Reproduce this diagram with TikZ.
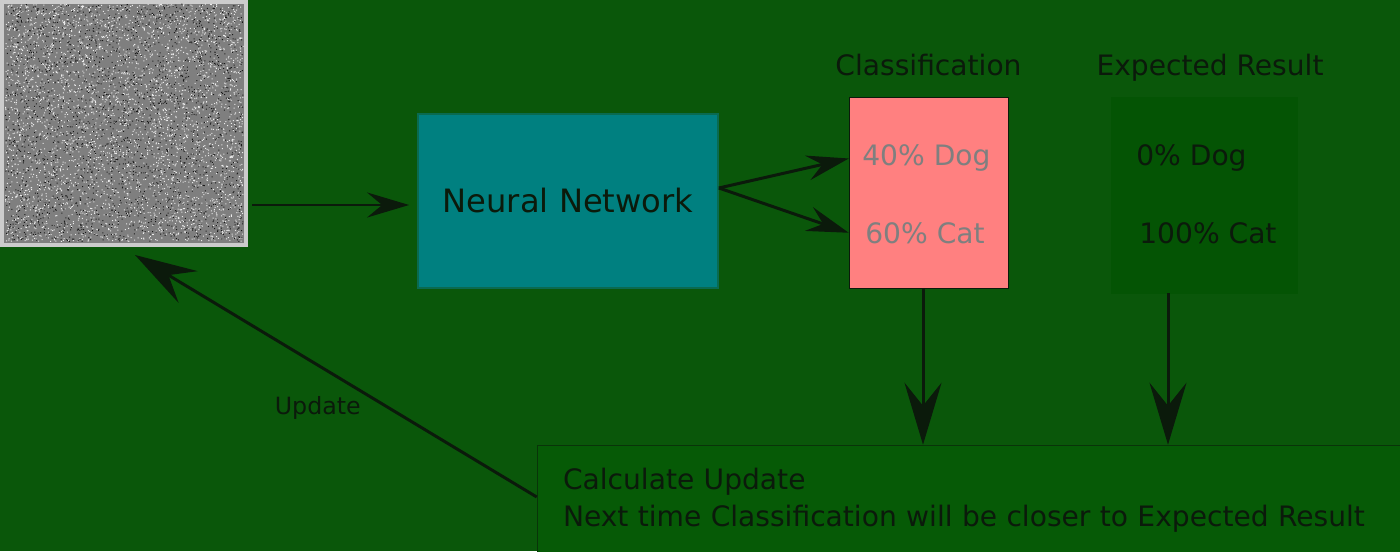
\documentclass[tikz,border=0pt]{standalone}
\usepackage{fontspec}
\setmainfont{DejaVu Sans}
\usepackage{xcolor}
\usetikzlibrary{
arrows.meta,
positioning,
calc
}

\definecolor{bggreen}{HTML}{0A570A}
\definecolor{boxgreen}{HTML}{045404}
\definecolor{updgreen}{HTML}{065A06}
\definecolor{ink}{HTML}{0B1A0B}
\definecolor{nnteal}{HTML}{008080}
\definecolor{nnedge}{HTML}{0A6A50}
\definecolor{clspink}{HTML}{FF8080}
\definecolor{clstext}{HTML}{7F7F7F}
\definecolor{noisegray}{HTML}{7F7F7F}
\definecolor{imgedge}{HTML}{CCCCCC}

\begin{document}
\begin{tikzpicture}[
node distance=0.42cm,
box/.style={
draw=ink,
line width=0.3pt,
inner sep=0pt
},
txt/.style={
text=ink,
inner sep=0pt,
font=\fontsize{16}{21}\selectfont
},
arrow/.style={-{Stealth[length=0.84cm,width=0.5cm,inset=0.3cm]},line width=1.7pt,draw=ink},
bigarrow/.style={-{Stealth[length=1.24cm,width=0.74cm,inset=0.46cm]},line width=1.7pt,draw=ink}
]

\fill[bggreen] (0,0) rectangle (28,11.02);
\useasboundingbox (0,0) rectangle (28,11.02);

% noise picture
\node[draw=imgedge,line width=0.08cm,fill=noisegray,minimum width=4.88cm,minimum height=4.86cm,inner sep=0pt] (img) at (2.48,8.55) {};
\pgfmathsetseed{42}
\fill[white!85!gray] \foreach \i in {1,...,4000} {({0.1+4.75*rnd},{6.18+4.75*rnd}) rectangle ++(0.02,0.02)};
\fill[black!90] \foreach \i in {1,...,2200} {({0.1+4.75*rnd},{6.18+4.75*rnd}) rectangle ++(0.02,0.02)};

\node[fill=nnteal,draw=nnedge,line width=1pt,minimum width=6cm,minimum height=3.48cm,text=ink,font=\fontsize{18.3}{22}\selectfont] (nn) at (11.36,7.0) {Neural Network};

\node[box,fill=clspink,minimum width=3.18cm,minimum height=3.82cm] (cls) at (18.57,7.17) {};
\node[box,fill=boxgreen,draw=boxgreen,minimum width=3.72cm,minimum height=3.92cm] (exp) at (24.08,7.12) {};

\node[txt,above=of cls,anchor=base] (clslbl) {Classification};
\node[txt,above=of exp.north,anchor=base,xshift=0.12cm] (explbl) at (exp.north) {Expected Result};

\node[txt,text=clstext,anchor=base west] (dogp) at (17.24,7.7) {40\% Dog};
\node[txt,text=clstext,anchor=base west] (catp) at (17.30,6.16) {60\% Cat};
\node[txt,anchor=base west] (doge) at (22.72,7.7) {0\% Dog};
\node[txt,anchor=base west] (cate) at (22.78,6.16) {100\% Cat};

\node[txt,fill=updgreen,draw=ink!60!updgreen,line width=0.3pt,minimum width=17.76cm,minimum height=2.2cm,text width=16.72cm,inner xsep=0.52cm,align=left] (upd) at (19.62,1.02) {Calculate Update\\Next time Classification will be closer to Expected Result};

\coordinate (fork) at ([yshift=0.26cm]nn.east);

\draw[arrow,shorten <=0.08cm,shorten >=0.16cm] ([yshift=-0.08cm]img.east |- nn.west) -- ([yshift=-0.08cm]nn.west);
\draw[arrow] (fork) -- (cls.west |- dogp);
\draw[arrow] (fork) -- (cls.west |- catp);
\draw[bigarrow] ([xshift=-0.11cm]cls.south) -- ([xshift=-0.11cm]cls.south |- upd.north);
\draw[bigarrow] ([xshift=-0.72cm]exp.south) -- ([xshift=-0.72cm]exp.south |- upd.north);
\draw[bigarrow] ([yshift=0.06cm]upd.west) -- ([xshift=0.22cm,yshift=-0.16cm]img.south)
node[txt,font=\fontsize{13.5}{16}\selectfont,pos=0.545,yshift=-0.86cm] (updlbl) {Update};

\end{tikzpicture}
\end{document}
